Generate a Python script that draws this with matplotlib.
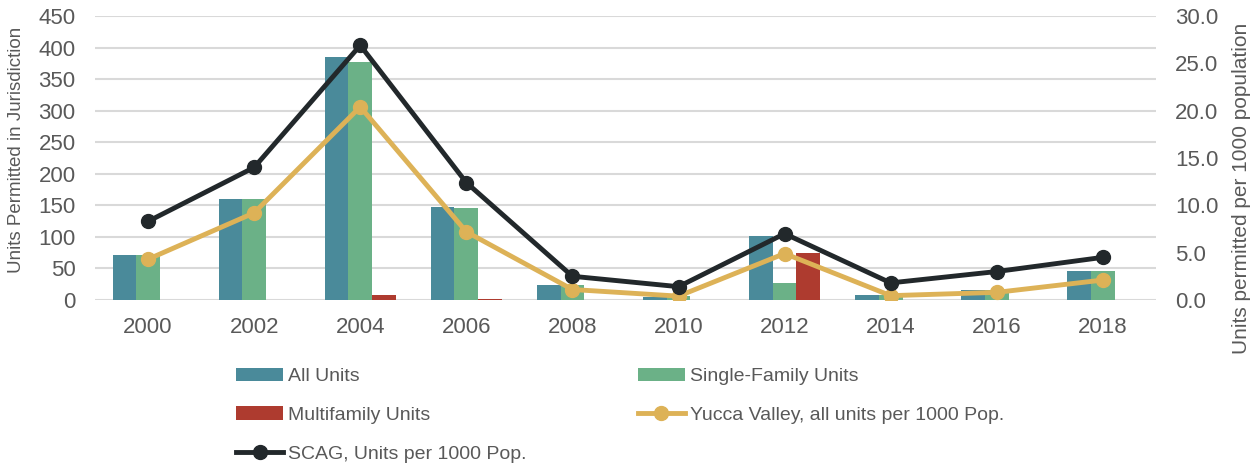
import matplotlib.pyplot as plt
import numpy as np

years = ["2000", "2002", "2004", "2006", "2008", "2010", "2012", "2014", "2016", "2018"]
all_units = [71, 160, 385, 148, 23, 5, 102, 8, 16, 46]
single_family = [71, 160, 377, 146, 23, 6, 27, 8, 16, 46]
multifamily = [0, 0, 8, 2, 0, 0, 74, 0, 0, 0]
yucca_per_1000 = [4.3, 9.2, 20.4, 7.2, 1.1, 0.4, 4.9, 0.45, 0.8, 2.1]
scag_per_1000 = [8.3, 14.0, 26.9, 12.4, 2.5, 1.4, 7.0, 1.8, 3.0, 4.5]

teal = "#4a8a9a"
green = "#6bb187"
red = "#ae3b2f"
gold = "#ddb257"
dark = "#22282b"
txt = "#595959"

plt.rcParams['font.family'] = ['Liberation Sans', 'DejaVu Sans']

fig = plt.figure(figsize=(12.6, 4.65), dpi=100)
ax = fig.add_axes([0.0754, 0.355, 0.842, 0.6106])
ax2 = ax.twinx()

x = np.arange(len(years))
w = 0.223
b1 = ax.bar(x - w, all_units, w, color=teal, label="All Units")
b2 = ax.bar(x, single_family, w, color=green, label="Single-Family Units")
b3 = ax.bar(x + w, multifamily, w, color=red, label="Multifamily Units")

l1, = ax2.plot(x, yucca_per_1000, color=gold, lw=3.5, marker="o", ms=10,
               label="Yucca Valley, all units per 1000 Pop.")
l2, = ax2.plot(x, scag_per_1000, color=dark, lw=3.5, marker="o", ms=10,
               label="SCAG, Units per 1000 Pop.")

ax.set_xlim(-0.5, len(years) - 0.5)
ax.set_ylim(0, 450)
ax.set_yticks(range(0, 451, 50))
ax2.set_ylim(0, 30)
ax2.set_yticks(range(0, 31, 5))
ax2.set_yticklabels([f"{v:.1f}" for v in range(0, 31, 5)])
ax.set_xticks(x)
ax.set_xticklabels(years)

ax.yaxis.grid(True, color="#d9d9d9", lw=1.5)
ax.set_axisbelow(True)
for a in (ax, ax2):
    for s in a.spines.values():
        s.set_visible(False)
    a.tick_params(length=0, labelsize=16, labelcolor=txt)
ax.tick_params(axis="x", pad=12)
ax.tick_params(axis="y", pad=14)
ax2.tick_params(axis="y", pad=14)

ax.set_ylabel("Units Permitted in Jurisdiction", fontsize=13.5, color=txt)
ax.yaxis.set_label_coords(-0.066, 0.53)
ax2.set_ylabel("Units permitted per 1000 population", fontsize=15, color=txt)
ax2.yaxis.set_label_coords(1.0716, 0.394)

handles = [b1, b3, l2, b2, l1]
labels = [h.get_label() for h in handles]
fig.legend(handles, labels, ncol=2, loc="upper left", bbox_to_anchor=(0.181, 0.226),
           frameon=False, fontsize=14, labelcolor=txt, handlelength=2.45,
           handletextpad=0.25, columnspacing=5.7, labelspacing=1.08, borderaxespad=0)

fig.savefig("out.png", dpi=100)
